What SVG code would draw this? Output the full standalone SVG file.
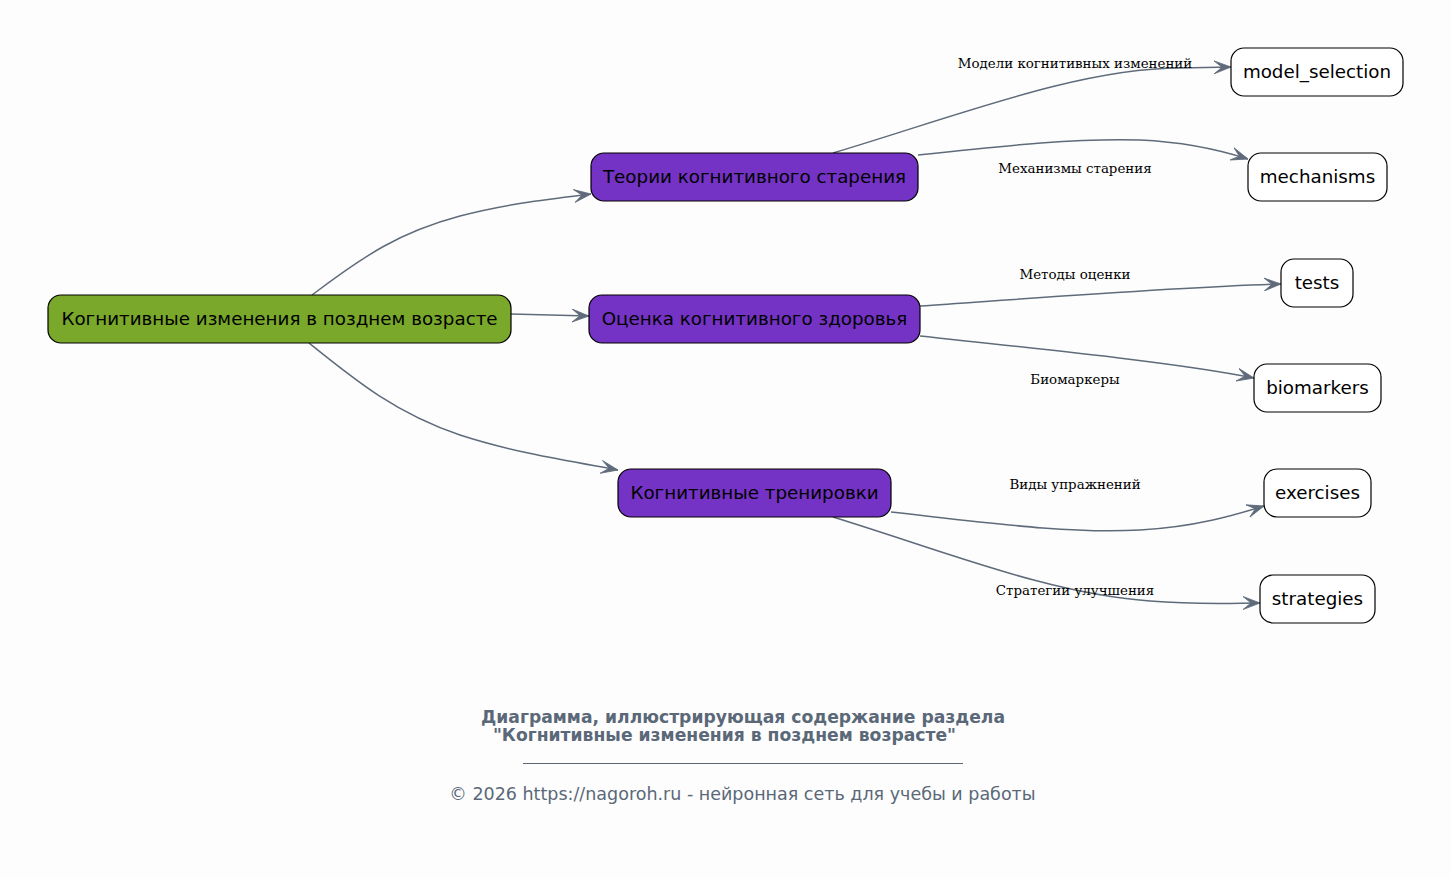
<svg xmlns="http://www.w3.org/2000/svg" width="1451" height="879" viewBox="0 0 1451 879">
<defs>
<style>
.node rect{stroke:#000;stroke-width:1.2}
.root rect{fill:#79a82b}
.mid rect{fill:#7433c4}
.leaf rect{fill:#fff}
.node text{font-family:"DejaVu Sans","Liberation Sans",sans-serif;font-size:18.3px;fill:#000;text-anchor:middle;dominant-baseline:central}
.edges path{fill:none;stroke:#5f6b7a;stroke-width:1.5}
.elabel{font-family:"DejaVu Serif","Liberation Serif",serif;font-size:13.4px;fill:#000;text-anchor:middle}
.title{font-family:"DejaVu Sans","Liberation Sans",sans-serif;font-size:17.2px;font-weight:bold;fill:#5a6878}
.foot{font-family:"DejaVu Sans","Liberation Sans",sans-serif;font-size:17.5px;fill:#5a6878;text-anchor:middle}
</style>
<marker id="arr" viewBox="0 0 18 14" refX="17" refY="7" markerWidth="18" markerHeight="14" markerUnits="userSpaceOnUse" orient="auto">
<path d="M0,0.5 L17,7 L0,13.5 L8,7 Z" fill="#5f6b7a" stroke="#5f6b7a" stroke-width="0.8" stroke-linejoin="round"/>
</marker>
</defs>
<rect width="1451" height="879" fill="#fdfdfd"/>
<g class="edges">
<path d="M312,295 C365,255 400,232 460,216 C505,204 550,199 591,194" marker-end="url(#arr)"/>
<path d="M511,314 L589,316" marker-end="url(#arr)"/>
<path d="M309,343 C355,380 395,413 460,435 C515,453 575,462 618,470" marker-end="url(#arr)"/>
<path d="M833,153 C960,115 1080,68 1180,68 L1231,67" marker-end="url(#arr)"/>
<path d="M918,155 C1010,145 1080,138 1140,140 C1185,142 1220,150 1248,159" marker-end="url(#arr)"/>
<path d="M920,306 C1050,297 1180,287 1281,284" marker-end="url(#arr)"/>
<path d="M920,336 C1050,350 1180,363 1254,378" marker-end="url(#arr)"/>
<path d="M891,512 C990,523 1070,534 1140,530 C1195,527 1235,515 1264,506" marker-end="url(#arr)"/>
<path d="M833,517 C950,553 1050,594 1150,601 C1200,605 1235,603 1260,603" marker-end="url(#arr)"/>
</g>
<g id="edge-labels">
<text class="elabel" x="1075" y="68">Модели когнитивных изменений</text>
<text class="elabel" x="1075" y="173">Механизмы старения</text>
<text class="elabel" x="1075" y="279">Методы оценки</text>
<text class="elabel" x="1075" y="384">Биомаркеры</text>
<text class="elabel" x="1075" y="489">Виды упражнений</text>
<text class="elabel" x="1075" y="595">Стратегии улучшения</text>
</g>
<g id="root" class="node root"><rect x="48" y="295" width="463" height="48" rx="13"/><text x="279.5" y="318">Когнитивные изменения в позднем возрасте</text></g>
<g id="theories" class="node mid"><rect x="591" y="153" width="327" height="48" rx="13"/><text x="754.5" y="176">Теории когнитивного старения</text></g>
<g id="assessment" class="node mid"><rect x="589" y="295" width="331" height="48" rx="13"/><text x="754.5" y="318">Оценка когнитивного здоровья</text></g>
<g id="training" class="node mid"><rect x="618" y="469" width="273" height="48" rx="13"/><text x="754.5" y="492">Когнитивные тренировки</text></g>
<g id="model_selection" class="node leaf"><rect x="1231" y="48" width="172" height="48" rx="13"/><text x="1317" y="71">model_selection</text></g>
<g id="mechanisms" class="node leaf"><rect x="1248" y="153" width="139" height="48" rx="13"/><text x="1317.5" y="176">mechanisms</text></g>
<g id="tests" class="node leaf"><rect x="1281" y="259" width="72" height="48" rx="13"/><text x="1317" y="282">tests</text></g>
<g id="biomarkers" class="node leaf"><rect x="1254" y="364" width="127" height="48" rx="13"/><text x="1317.5" y="387">biomarkers</text></g>
<g id="exercises" class="node leaf"><rect x="1264" y="469" width="107" height="48" rx="13"/><text x="1317.5" y="492">exercises</text></g>
<g id="strategies" class="node leaf"><rect x="1260" y="575" width="115" height="48" rx="13"/><text x="1317.5" y="598">strategies</text></g>
<g id="caption">
<text class="title" x="743" y="723" text-anchor="middle">Диаграмма, иллюстрирующая содержание раздела</text>
<text class="title" x="724.5" y="741" text-anchor="middle">"Когнитивные изменения в позднем возрасте"</text>
<line x1="523" y1="763.5" x2="963" y2="763.5" stroke="#5a6878" stroke-width="1"/>
<text class="foot" x="742.5" y="800">© 2026 https://nagoroh.ru - нейронная сеть для учебы и работы</text>
</g>
</svg>
